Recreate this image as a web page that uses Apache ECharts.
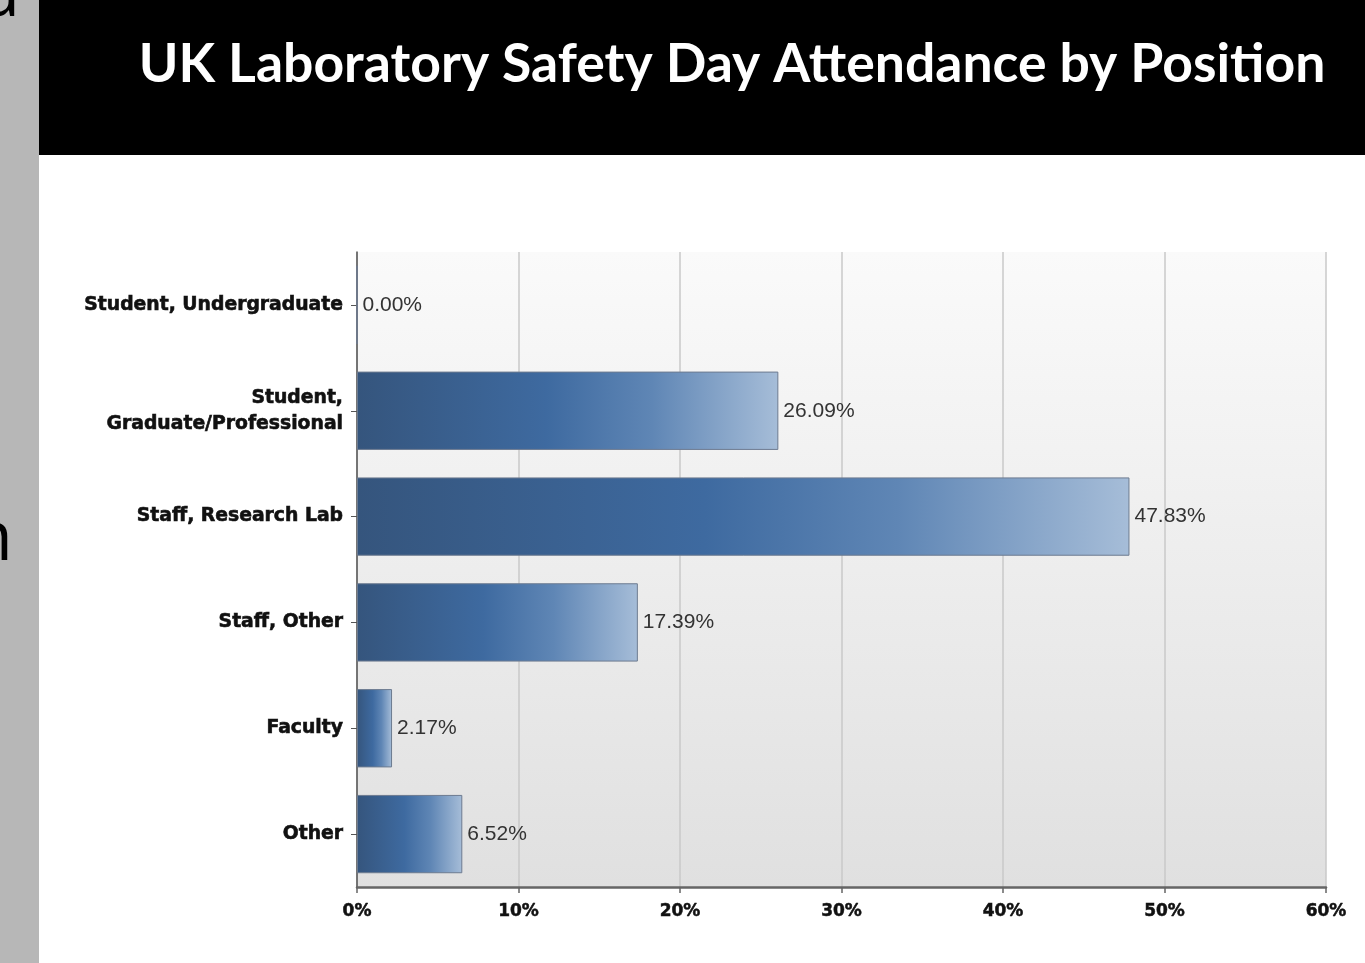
<!DOCTYPE html>
<html>
<head>
<meta charset="utf-8">
<script src="https://cdn.jsdelivr.net/npm/echarts@6/dist/echarts.min.js"></script>
<style>
html,body{margin:0;padding:0;background:#fff;}
#chart{width:1365px;height:963px;}
</style>
</head>
<body>
<div id="chart"></div>
<script>
const titleText = 'UK Laboratory Safety Day Attendance by Position';
const categories = ['Student, Undergraduate', 'Student,\nGraduate/Professional', 'Staff, Research Lab', 'Staff, Other', 'Faculty', 'Other'];
const values = [0.00, 26.09, 47.83, 17.39, 2.17, 6.52];
const xTicks = { min: 0, max: 60, interval: 10 };

const chart = echarts.init(document.getElementById('chart'), null, { renderer: 'canvas' });
chart.setOption({
  backgroundColor: '#ffffff',
  animation: false,
  graphic: [
    { type: 'rect', shape: { x: 0, y: 0, width: 39, height: 963 }, style: { fill: '#b7b7b7' }, z: 0 },
    { type: 'rect', shape: { x: 39, y: 0, width: 1326, height: 155 }, style: { fill: '#000000' }, z: 0 },
    { type: 'text', x: -19, y: -39, style: { text: 'a', fill: '#000', font: '70px "Open Sans", sans-serif' }, z: 1 },
    { type: 'text', x: -30, y: 505, style: { text: 'n', fill: '#000', font: '70px "Open Sans", sans-serif' }, z: 1 },
    { type: 'text', x: 732, y: 65, style: { text: titleText, fill: '#ffffff', font: 'bold 53.5px Lato, sans-serif', align: 'center', verticalAlign: 'middle' }, z: 2 }
  ],
  grid: {
    left: 357, right: 39, top: 252, bottom: 76,
    show: true, borderWidth: 0,
    backgroundColor: {
      type: 'linear', x: 0, y: 0, x2: 0, y2: 1,
      colorStops: [{ offset: 0, color: '#fafafa' }, { offset: 1, color: '#e0e0e0' }]
    }
  },
  xAxis: {
    type: 'value', min: xTicks.min, max: xTicks.max, interval: xTicks.interval,
    axisLine: { show: true, lineStyle: { color: '#666', width: 2.5 } },
    axisTick: { show: true, length: 6, lineStyle: { color: '#666', width: 1.5 } },
    splitLine: { show: true, lineStyle: { color: '#c8c8c8', width: 1.5 } },
    axisLabel: { formatter: '{value}%', color: '#111', fontFamily: '"DejaVu Sans", sans-serif', fontWeight: 'bold', fontSize: 17, margin: 16, textBorderColor: '#111', textBorderWidth: 0.5 }
  },
  yAxis: {
    type: 'category', data: categories, inverse: true,
    axisLine: { show: true, lineStyle: { color: '#555', width: 1.5 } },
    axisTick: { show: true, alignWithLabel: true, length: 6, lineStyle: { color: '#555', width: 1 } },
    axisLabel: { color: '#111', fontFamily: '"DejaVu Sans", sans-serif', fontWeight: 'bold', fontSize: 18.8, margin: 14, lineHeight: 26, align: 'right', textBorderColor: '#111', textBorderWidth: 0.6 }
  },
  series: [{
    type: 'bar',
    data: values,
    barCategoryGap: '26%',
    itemStyle: {
      color: {
        type: 'linear', x: 0, y: 0, x2: 1, y2: 0,
        colorStops: [
          { offset: 0, color: '#35557d' },
          { offset: 0.45, color: '#3e6aa0' },
          { offset: 0.7, color: '#5f86b5' },
          { offset: 1, color: '#a6bdd8' }
        ]
      },
      borderColor: '#6d7b90', borderWidth: 1
    },
    label: {
      show: true, position: 'right', distance: 5,
      formatter: p => p.value.toFixed(2) + '%',
      color: '#333', fontFamily: 'Arial, "Liberation Sans", sans-serif', fontSize: 21
    }
  }]
});
</script>
</body>
</html>
